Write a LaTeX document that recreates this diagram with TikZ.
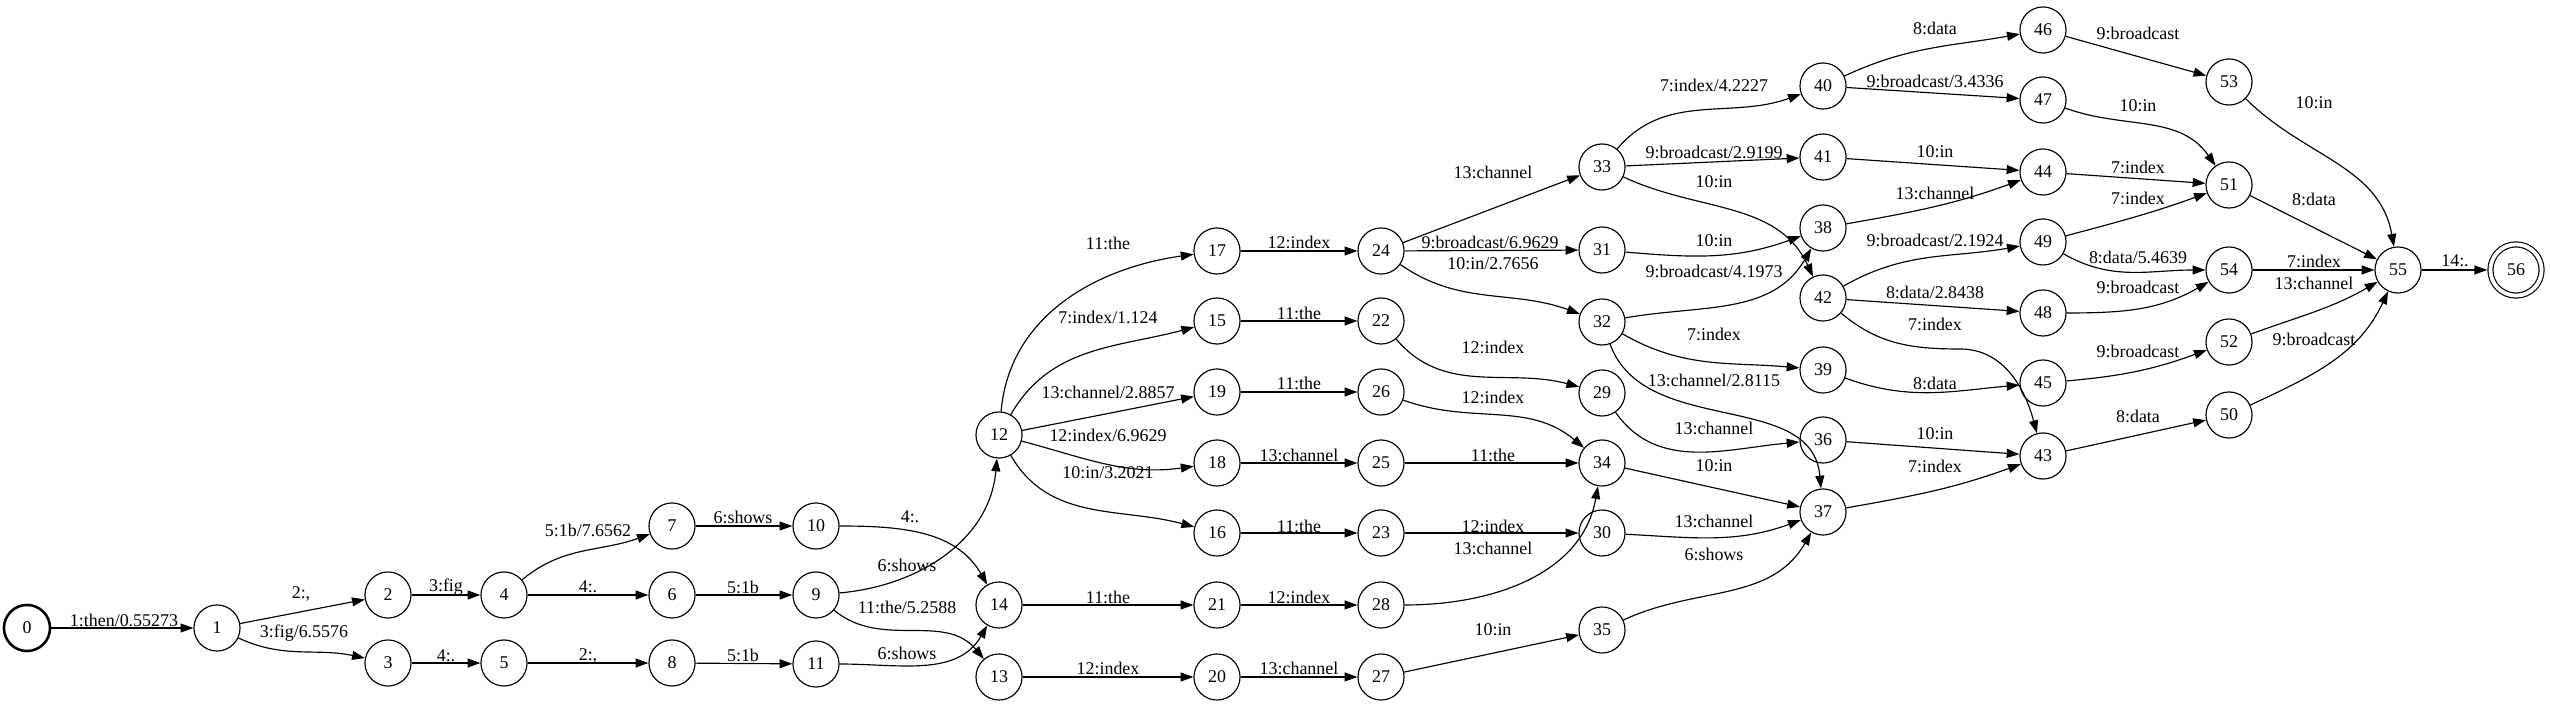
\documentclass[tikz,border=0pt]{standalone}
\usepackage{fontspec}
\setmainfont{Liberation Serif}
\usetikzlibrary{arrows.meta}
\begin{document}
\begin{tikzpicture}[x=0.78125pt,y=0.78125pt,
  st/.style={circle,draw,line width=0.9pt,minimum size=36pt,inner sep=0pt,font=\fontsize{14}{16}\selectfont},
  lb/.style={inner sep=0pt,font=\fontsize{14}{16}\selectfont},
  e/.style={line width=0.9pt,-{Triangle[length=10pt,width=7pt]}}]
\useasboundingbox (0,0) rectangle (2550,705);
% states
\node[st,line width=2pt] (n0) at (27,77) {0};
\node[st] (n1) at (217,77) {1};
\node[st] (n2) at (388,110) {2};
\node[st] (n3) at (388,42) {3};
\node[st] (n4) at (504,110) {4};
\node[st] (n5) at (504,42) {5};
\node[st] (n6) at (672,110) {6};
\node[st] (n7) at (672,179) {7};
\node[st] (n8) at (672,42) {8};
\node[st] (n9) at (816,110) {9};
\node[st] (n10) at (816,179) {10};
\node[st] (n11) at (816,41) {11};
\node[st] (n12) at (999,270) {12};
\node[st] (n13) at (999,28) {13};
\node[st] (n14) at (999,100) {14};
\node[st] (n17) at (1217,454) {17};
\node[st] (n15) at (1217,384) {15};
\node[st] (n19) at (1217,313) {19};
\node[st] (n18) at (1217,242) {18};
\node[st] (n16) at (1217,172) {16};
\node[st] (n21) at (1217,100) {21};
\node[st] (n20) at (1217,28) {20};
\node[st] (n24) at (1381,454) {24};
\node[st] (n22) at (1381,384) {22};
\node[st] (n26) at (1381,313) {26};
\node[st] (n25) at (1381,242) {25};
\node[st] (n23) at (1381,172) {23};
\node[st] (n28) at (1381,100) {28};
\node[st] (n27) at (1381,28) {27};
\node[st] (n33) at (1602,538) {33};
\node[st] (n31) at (1602,455) {31};
\node[st] (n32) at (1602,383) {32};
\node[st] (n29) at (1602,312) {29};
\node[st] (n34) at (1602,242) {34};
\node[st] (n30) at (1602,172) {30};
\node[st] (n35) at (1602,75) {35};
\node[st] (n40) at (1823,619) {40};
\node[st] (n41) at (1823,548) {41};
\node[st] (n38) at (1823,477) {38};
\node[st] (n42) at (1823,407) {42};
\node[st] (n39) at (1823,335) {39};
\node[st] (n36) at (1823,265) {36};
\node[st] (n37) at (1823,193) {37};
\node[st] (n46) at (2043,675) {46};
\node[st] (n47) at (2043,605) {47};
\node[st] (n44) at (2043,533) {44};
\node[st] (n49) at (2043,463) {49};
\node[st] (n48) at (2043,392) {48};
\node[st] (n45) at (2043,322) {45};
\node[st] (n43) at (2043,249) {43};
\node[st] (n53) at (2229,623) {53};
\node[st] (n51) at (2229,520) {51};
\node[st] (n54) at (2229,435) {54};
\node[st] (n52) at (2229,363) {52};
\node[st] (n50) at (2229,290) {50};
\node[st] (n55) at (2398,435) {55};
\node[st,double,double distance=3pt,minimum size=40pt,outer sep=2.5pt] (n56) at (2516,435) {56};
\coordinate (m4243) at (1960,356);
% arcs
\draw[e] (n0) -- (n1);
\draw[e] (n1) -- (n2);
\draw[e] (n1) to[out=-25,in=168] (n3);
\draw[e] (n2) -- (n4);
\draw[e] (n3) -- (n5);
\draw[e] (n4) to[out=40,in=200] (n7);
\draw[e] (n4) -- (n6);
\draw[e] (n5) -- (n8);
\draw[e] (n6) -- (n9);
\draw[e] (n8) -- (n11);
\draw[e] (n7) -- (n10);
\draw[e] (n10) to[out=0,in=120] (n14);
\draw[e] (n9) to[out=5,in=-95] (n12);
\draw[e] (n9) to[out=-40,in=130] (n13);
\draw[e] (n11) to[out=0,in=-120] (n14);
\draw[e] (n12) to[out=85,in=188] (n17);
\draw[e] (n12) to[out=60,in=195] (n15);
\draw[e] (n12) -- (n19);
\draw[e] (n12) to[out=-15,in=188] (n18);
\draw[e] (n12) to[out=-60,in=165] (n16);
\draw[e] (n14) -- (n21);
\draw[e] (n13) -- (n20);
\draw[e] (n17) -- (n24);
\draw[e] (n15) -- (n22);
\draw[e] (n19) -- (n26);
\draw[e] (n18) -- (n25);
\draw[e] (n16) -- (n23);
\draw[e] (n21) -- (n28);
\draw[e] (n20) -- (n27);
\draw[e] (n24) -- (n33);
\draw[e] (n24) -- (n31);
\draw[e] (n24) to[out=-35,in=160] (n32);
\draw[e] (n22) to[out=-50,in=165] (n29);
\draw[e] (n26) to[out=-20,in=140] (n34);
\draw[e] (n25) -- (n34);
\draw[e] (n23) -- (n30);
\draw[e] (n28) to[out=0,in=-100] (n34);
\draw[e] (n27) -- (n35);
\draw[e] (n33) to[out=50,in=200] (n40);
\draw[e] (n33) -- (n41);
\draw[e] (n33) to[out=-25,in=115] (n42);
\draw[e] (n31) to[out=-5,in=200] (n38);
\draw[e] (n32) to[out=10,in=-120] (n38);
\draw[e] (n32) to[out=-30,in=175] (n39);
\draw[e] (n32) to[out=-70,in=95] (n37);
\draw[e] (n29) to[out=-55,in=185] (n36);
\draw[e] (n34) -- (n37);
\draw[e] (n30) to[out=-3,in=200] (n37);
\draw[e] (n35) to[out=25,in=-120] (n37);
\draw[e] (n40) to[out=25,in=190] (n46);
\draw[e] (n40) -- (n47);
\draw[e] (n41) -- (n44);
\draw[e] (n38) to[out=10,in=200] (n44);
\draw[e] (n42) to[out=30,in=190] (n49);
\draw[e] (n42) -- (n48);
\draw[e] (n42) to[out=-40,in=180] (m4243) to[out=0,in=105] (n43);
\draw[e] (n39) to[out=-20,in=185] (n45);
\draw[e] (n36) -- (n43);
\draw[e] (n37) to[out=10,in=200] (n43);
\draw[e] (n46) -- (n53);
\draw[e] (n47) to[out=-20,in=125] (n51);
\draw[e] (n44) -- (n51);
\draw[e] (n49) to[out=15,in=200] (n51);
\draw[e] (n49) to[out=-30,in=180] (n54);
\draw[e] (n48) to[out=0,in=210] (n54);
\draw[e] (n45) to[out=5,in=200] (n52);
\draw[e] (n43) -- (n50);
\draw[e] (n53) to[out=-45,in=100] (n55);
\draw[e] (n51) -- (n55);
\draw[e] (n54) -- (n55);
\draw[e] (n52) to[out=20,in=210] (n55);
\draw[e] (n50) to[out=25,in=-115] (n55);
\draw[e] (n55) -- (n56);
% labels
\node[lb] (l1) at (124,85) {1:then/0.55273};
\node[lb] (l2) at (301,111) {2:,};
\node[lb] (l3) at (304,72) {3:fig/6.5576};
\node[lb] (l4) at (446,118) {3:fig};
\node[lb] (l5) at (446,49) {4:.};
\node[lb] (l6) at (588,175) {5:1b/7.6562};
\node[lb] (l7) at (588,118) {4:.};
\node[lb] (l8) at (588,49) {2:,};
\node[lb] (l9) at (743,188) {6:shows};
\node[lb] (l10) at (743,118) {5:1b};
\node[lb] (l11) at (743,50) {5:1b};
\node[lb] (l12) at (910,188) {4:.};
\node[lb] (l13) at (907,140) {6:shows};
\node[lb] (l14) at (907,98) {11:the/5.2588};
\node[lb] (l15) at (907,52) {6:shows};
\node[lb] (l16) at (1108,108) {11:the};
\node[lb] (l17) at (1108,37) {12:index};
\node[lb] (l18) at (1299,108) {12:index};
\node[lb] (l19) at (1299,37) {13:channel};
\node[lb] (l20) at (1299,179) {11:the};
\node[lb] (l21) at (1493,179) {12:index};
\node[lb] (l22) at (1493,157) {13:channel};
\node[lb] (l23) at (1493,75) {10:in};
\node[lb] (l24) at (1108,232) {10:in/3.2021};
\node[lb] (l25) at (1108,462) {11:the};
\node[lb] (l26) at (1299,463) {12:index};
\node[lb] (l27) at (1490,463) {9:broadcast/6.9629};
\node[lb] (l28) at (1493,441) {10:in/2.7656};
\node[lb] (l29) at (1108,388) {7:index/1.124};
\node[lb] (l30) at (1299,392) {11:the};
\node[lb] (l31) at (1493,358) {12:index};
\node[lb] (l32) at (1108,313) {13:channel/2.8857};
\node[lb] (l33) at (1299,322) {11:the};
\node[lb] (l34) at (1493,308) {12:index};
\node[lb] (l35) at (1108,270) {12:index/6.9629};
\node[lb] (l36) at (1299,250) {13:channel};
\node[lb] (l37) at (1493,250) {11:the};
\node[lb] (l38) at (1935,677) {8:data};
\node[lb] (l39) at (1935,624) {9:broadcast/3.4336};
\node[lb] (l40) at (1714,620) {7:index/4.2227};
\node[lb] (l41) at (1714,553) {9:broadcast/2.9199};
\node[lb] (l42) at (1714,523) {10:in};
\node[lb] (l43) at (1493,533) {13:channel};
\node[lb] (l44) at (1935,553) {10:in};
\node[lb] (l45) at (1935,512) {13:channel};
\node[lb] (l46) at (1714,464) {10:in};
\node[lb] (l47) at (1935,465) {9:broadcast/2.1924};
\node[lb] (l48) at (1714,434) {9:broadcast/4.1973};
\node[lb] (l49) at (1935,413) {8:data/2.8438};
\node[lb] (l50) at (1935,381) {7:index};
\node[lb] (l51) at (1714,371) {7:index};
\node[lb] (l52) at (1714,325) {13:channel/2.8115};
\node[lb] (l53) at (1935,322) {8:data};
\node[lb] (l54) at (1714,277) {13:channel};
\node[lb] (l55) at (1935,271) {10:in};
\node[lb] (l56) at (1714,239) {10:in};
\node[lb] (l57) at (1935,239) {7:index};
\node[lb] (l58) at (1714,184) {13:channel};
\node[lb] (l59) at (1714,151) {6:shows};
\node[lb] (l60) at (2138,672) {9:broadcast};
\node[lb] (l61) at (2138,599) {10:in};
\node[lb] (l62) at (2314,602) {10:in};
\node[lb] (l63) at (2138,538) {7:index};
\node[lb] (l64) at (2138,507) {7:index};
\node[lb] (l65) at (2314,506) {8:data};
\node[lb] (l66) at (2138,448) {8:data/5.4639};
\node[lb] (l67) at (2138,418) {9:broadcast};
\node[lb] (l68) at (2314,444) {7:index};
\node[lb] (l69) at (2314,422) {13:channel};
\node[lb] (l70) at (2138,354) {9:broadcast};
\node[lb] (l71) at (2314,366) {9:broadcast};
\node[lb] (l72) at (2138,289) {8:data};
\node[lb] (l73) at (2455,444) {14:.};
\end{tikzpicture}
\end{document}
